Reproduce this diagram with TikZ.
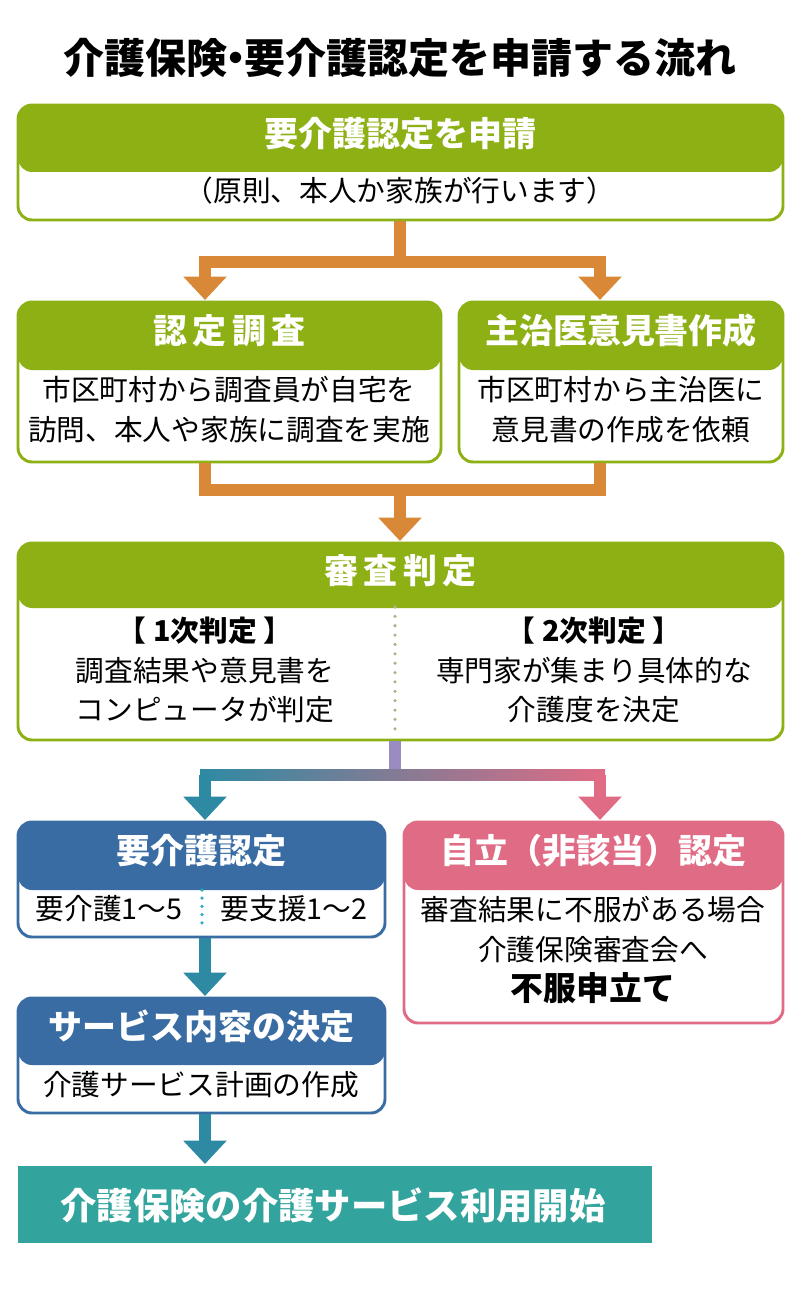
\documentclass[tikz,border=0pt]{standalone}
\usepackage{fontspec}
\setmainfont{Noto Sans CJK JP}
\usetikzlibrary{arrows.meta}
\definecolor{cgreen}{HTML}{8DB015}
\definecolor{corange}{HTML}{D98838}
\definecolor{cblue}{HTML}{3A6CA4}
\definecolor{cpink}{HTML}{E06B85}
\definecolor{cteal}{HTML}{33A49D}
\definecolor{carrow}{HTML}{2E8AA3}
\definecolor{cpurple}{HTML}{9A8CC0}
\definecolor{cdot}{HTML}{B8B08A}
\newcommand{\panel}[7]{% color, x1, ytop, x2, ymid, ybot, name
	\draw [draw=#1, line width=2.5pt, fill=white, rounded corners=12pt] (#2,#3) rectangle (#4,#6);
	\fill [#1, rounded corners=12pt] (#2,#3) rectangle (#4,#5+10);
	\fill [#1] (#2,#5-10) rectangle (#4,#5);
	\coordinate (#7) at (#2/2+#4/2,#3/2+#5/2);
}
\begin{document}
\begin{tikzpicture}[x=0.3mm,y=-0.3mm]
	\tikzstyle{hd} = [text=white, font=\bfseries\fontsize{29}{32}\selectfont]
	\tikzstyle{tx} = [align=center, font=\fontsize{24.5}{34}\selectfont]
	\tikzstyle{es} = [line width=11pt, -{Triangle[width=36pt,length=20pt]}]
	\useasboundingbox [fill=white] (0,0) rectangle (800,1300);
	\node [font=\bfseries\fontsize{35}{38}\selectfont] (title) at (400,58) {介護保険\kern-0.3em・\kern-0.3em要介護認定を申請する流れ};
	% boxes
	\panel{cgreen}{18}{105}{783}{162}{220}{h1}
	\panel{cgreen}{18}{302}{441}{360}{462}{h2}
	\panel{cgreen}{459}{302}{783}{360}{462}{h3}
	\panel{cgreen}{18}{543}{783}{598}{740}{h4}
	\panel{cblue}{18}{822}{385}{880}{937}{h5}
	\panel{cpink}{404}{822}{783}{880}{1023}{h6}
	\panel{cblue}{18}{998}{385}{1055}{1113}{h7}
	\fill [cteal] (18,1166) rectangle (652,1243);
	\node [hd] at (h1) {要介護認定を申請};
	\node [tx] (t1) at (400,191) {（原則、本人か家族が行います）};
	\node [hd] at (h2) {認\,定\,調\,査};
	\node [tx] (t2) at (229,410) {市区町村から調査員が自宅を\\訪問、本人や家族に調査を実施};
	\node [hd] at (h3) {主治医意見書作成};
	\node [tx] (t3) at (621,410) {市区町村から主治医に\\意見書の作成を依頼};
	\node [hd] at (h4) {審\,査\,判\,定};
	\node [tx] (t4a) at (205,670) {\textbf{【 1次判定 】}\\調査結果や意見書を\\コンピュータが判定};
	\node [tx] (t4b) at (594,670) {\textbf{【 2次判定 】}\\専門家が集まり具体的な\\介護度を決定};
	\draw [cdot, line width=3pt, dash pattern=on 0pt off 8pt, line cap=round] (395,607) -- (395,735);
	\node [hd] at (h5) {要介護認定};
	\node [tx] (t5a) at (109,909) {要介護1〜5};
	\node [tx] (t5b) at (294,909) {要支援1〜2};
	\draw [carrow!70!cyan, line width=3pt, dash pattern=on 0pt off 7pt, line cap=round] (202,890) -- (202,930);
	\node [hd] at (h6) {自立（非該当）認定};
	\node [tx] (t6) at (593,950) {審査結果に不服がある場合\\介護保険審査会へ\\{\bfseries\fontsize{28}{34}\selectfont 不服申立て}};
	\node [hd] at (h7) {サービス内容の決定};
	\node [tx] (t7) at (201,1085) {介護サービス計画の作成};
	\node [hd, font=\bfseries\fontsize{31}{34}\selectfont] (t8) at (333,1205) {介護保険の介護サービス利用開始};
	% connectors
	\coordinate (s1) at (400,221);
	\coordinate (c1) at (400,262);
	\coordinate (a2) at (205,300);
	\coordinate (a3) at (600,300);
	\draw [corange, line width=11pt] (s1) -- (c1);
	\draw [es, corange] (c1) -| (a2);
	\draw [es, corange] (c1) -| (a3);
	\coordinate (b2) at (205,463);
	\coordinate (b3) at (600,463);
	\coordinate (c2) at (400,490);
	\coordinate (a4) at (400,541);
	\draw [corange, line width=11pt, line join=miter] (b2) |- (c2) -| (b3);
	\draw [es, corange] (c2) -- (a4);
	\coordinate (s4) at (395,741);
	\coordinate (c4) at (395,775);
	\coordinate (a5) at (205,820);
	\coordinate (a6) at (600,820);
	\draw [cpurple, line width=11pt] (s4) -- (c4);
	\shade [left color=carrow, right color=cpink] (200,769.5) rectangle (605,780.5);
	\draw [es, carrow] (205,775) -- (a5);
	\draw [es, cpink] (600,775) -- (a6);
	\coordinate (b5) at (205,938);
	\coordinate (a7) at (205,996);
	\draw [es, carrow] (b5) -- (a7);
	\coordinate (b7) at (205,1114);
	\coordinate (a8) at (205,1164);
	\draw [es, carrow] (b7) -- (a8);
\end{tikzpicture}
\end{document}
